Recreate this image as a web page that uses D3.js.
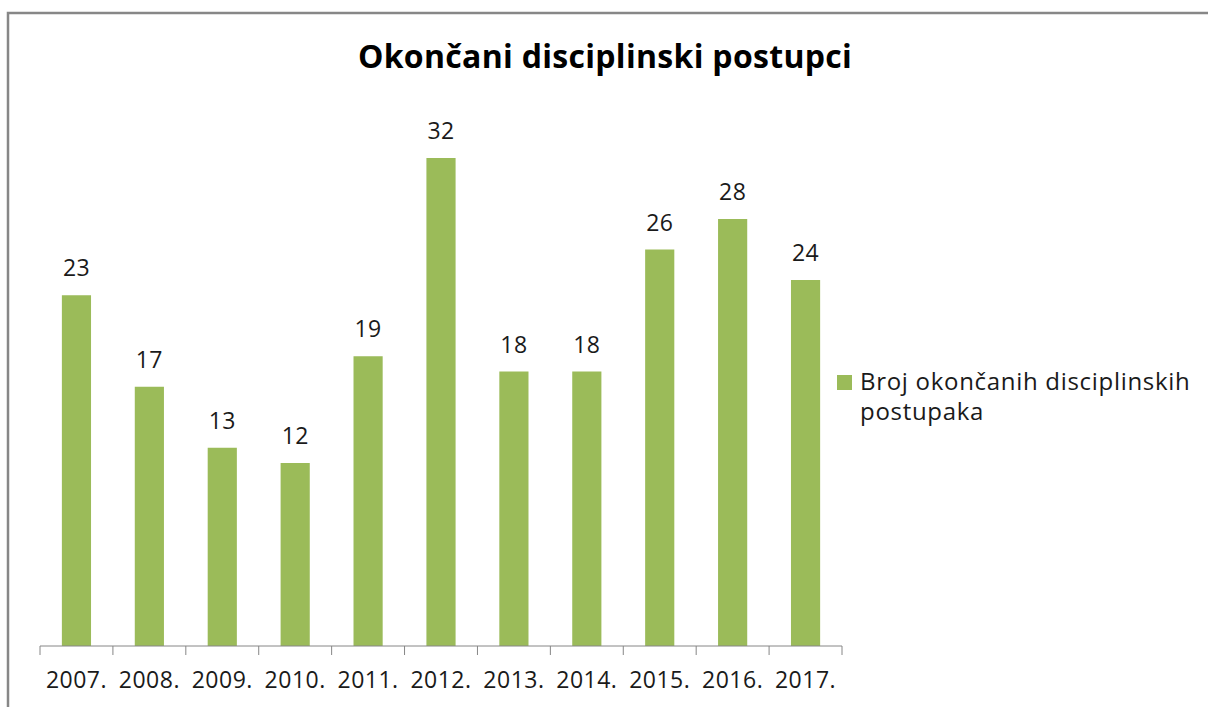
<!DOCTYPE html>
<html><head><meta charset="utf-8">
<script src="https://cdn.jsdelivr.net/npm/d3@7"></script>
<style>body{margin:0;background:#fff}svg{display:block}text{font-family:"Open Sans",sans-serif}</style>
</head><body><svg id="c" width="1208" height="707"></svg>
<script>
const categories = ["2007.","2008.","2009.","2010.","2011.","2012.","2013.","2014.","2015.","2016.","2017."];
const values = [23,17,13,12,19,32,18,18,26,28,24];
const seriesName = ["Broj okončanih disciplinskih","postupaka"];
const title = "Okončani disciplinski postupci";

const svg = d3.select("#c");
const color = "#9BBB59";
svg.append("path").attr("d","M8,707 V13 H1208").attr("fill","none").attr("stroke","#878787").attr("stroke-width",2.5);

const x = d3.scaleBand().domain(categories).range([40,842]).paddingInner(0).paddingOuter(0);
const y = d3.scaleLinear().domain([0,32]).range([646,158]);

svg.append("text").attr("x",605).attr("y",68).attr("text-anchor","middle")
  .attr("font-size",32).attr("font-weight","bold").attr("letter-spacing",0.3).attr("fill","#000").text(title);

const bw = x.bandwidth()*0.4;
svg.selectAll("rect.bar").data(values).join("rect").attr("class","bar")
  .attr("x",(d,i)=>x(categories[i])+x.bandwidth()/2-bw/2)
  .attr("y",d=>y(d)).attr("width",bw).attr("height",d=>646-y(d)).attr("fill",color);

svg.selectAll("text.lbl").data(values).join("text").attr("class","lbl")
  .attr("x",(d,i)=>x(categories[i])+x.bandwidth()/2).attr("y",d=>y(d)-19)
  .attr("text-anchor","middle").attr("font-size",23).attr("letter-spacing",0.4).attr("fill","#1a1a1a").text(d=>d);

const ax = svg.append("g").attr("transform","translate(0,646)");
ax.append("line").attr("x1",40).attr("x2",842).attr("stroke","#868686").attr("stroke-width",1);
const ticks = categories.map(c=>x(c)).concat([842]);
ax.selectAll("line.t").data(ticks).join("line").attr("class","t")
  .attr("x1",d=>d).attr("x2",d=>d).attr("y1",0).attr("y2",9).attr("stroke","#868686");
ax.selectAll("text").data(categories).join("text")
  .attr("x",d=>x(d)+x.bandwidth()/2).attr("y",42).attr("text-anchor","middle")
  .attr("font-size",23).attr("letter-spacing",0.5).attr("fill","#1a1a1a").text(d=>d);

svg.append("rect").attr("x",837).attr("y",375).attr("width",15).attr("height",15).attr("fill",color);
svg.selectAll("text.leg").data(seriesName).join("text").attr("class","leg")
  .attr("x",860).attr("y",(d,i)=>390+i*30).attr("font-size",24).attr("letter-spacing",0.7).attr("fill","#1a1a1a").text(d=>d);
</script></body></html>
